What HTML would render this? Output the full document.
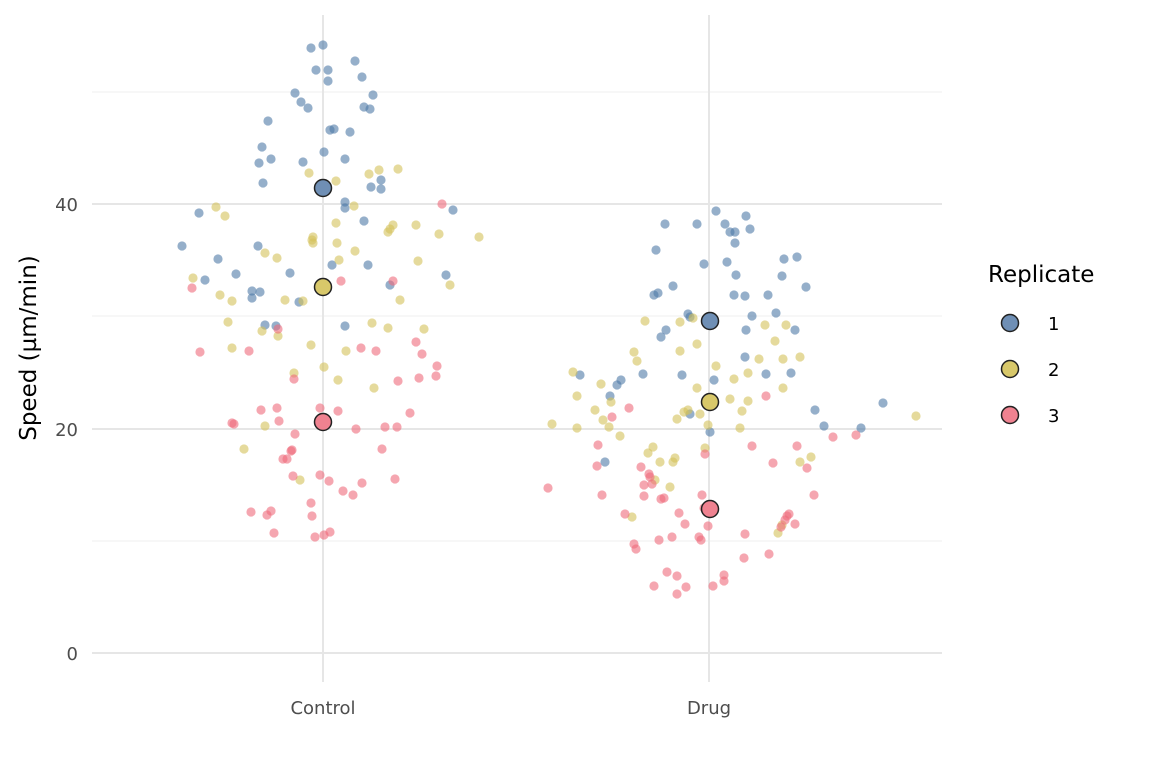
<!DOCTYPE html>
<html><head><meta charset="utf-8"><style>html,body{margin:0;padding:0;background:#fff}</style></head>
<body>
<svg width="1152" height="768" viewBox="0 0 1152 768" xmlns="http://www.w3.org/2000/svg" font-family="'DejaVu Sans', 'Liberation Sans', sans-serif">
<rect width="1152" height="768" fill="#fff"/>
<g stroke="#efefef" stroke-width="1">
<line x1="92" x2="942" y1="541" y2="541"/><line x1="92" x2="942" y1="316" y2="316"/><line x1="92" x2="942" y1="92" y2="92"/>
</g>
<g stroke="#e6e6e6" stroke-width="2">
<line x1="92" x2="942" y1="653" y2="653"/><line x1="92" x2="942" y1="429" y2="429"/><line x1="92" x2="942" y1="204" y2="204"/>
<line x1="323" x2="323" y1="15" y2="682"/><line x1="709" x2="709" y1="15" y2="682"/>
</g>
<g id="pts" stroke="none">
<g fill="#4e79a7" fill-opacity="0.6" id="b"></g>
<g fill="#d4c15a" fill-opacity="0.6" id="y"></g>
<g fill="#ef6b7b" fill-opacity="0.6" id="r"></g>
</g>
<g stroke="#222" stroke-width="1.5">
<circle cx="323" cy="188" r="8.5" fill="#6f8fb5"/>
<circle cx="323" cy="287" r="8.5" fill="#d8c86a"/>
<circle cx="323" cy="422" r="8.5" fill="#ef8290"/>
<circle cx="710" cy="321" r="8.5" fill="#6f8fb5"/>
<circle cx="710" cy="402" r="8.5" fill="#d8c86a"/>
<circle cx="710" cy="509" r="8.5" fill="#ef8290"/>
</g>
<g fill="#4d4d4d" font-size="18" text-anchor="end">
<text x="78" y="660">0</text><text x="78" y="436">20</text><text x="78" y="211">40</text>
</g>
<g fill="#4d4d4d" font-size="18" text-anchor="middle">
<text x="323" y="714">Control</text><text x="709" y="714">Drug</text>
</g>
<text transform="translate(36,348) rotate(-90)" font-size="23" text-anchor="middle" fill="#000">Speed (µm/min)</text>
<text x="988" y="282" font-size="23" fill="#000">Replicate</text>
<g stroke="#222" stroke-width="1.5">
<circle cx="1010" cy="323" r="8.5" fill="#6f8fb5"/>
<circle cx="1010" cy="369" r="8.5" fill="#d8c86a"/>
<circle cx="1010" cy="415" r="8.5" fill="#ef8290"/>
</g>
<g font-size="18" fill="#000"><text x="1048" y="330">1</text><text x="1048" y="376">2</text><text x="1048" y="422">3</text></g>
</svg>
<script>
const B=[[182,246],[199,213],[205,280],[218,259],[236,274],[252,291],[252,298],[260,292],[258,246],[262,147],[259,163],[263,183],[268,121],[271,159],[265,325],[276,326],[290,273],[299,302],[295,93],[301,102],[308,108],[303,162],[311,48],[316,70],[323,45],[328,70],[328,81],[324,152],[330,130],[334,129],[345,159],[350,132],[345,202],[345,208],[355,61],[362,77],[364,107],[370,109],[373,95],[371,187],[381,180],[381,189],[364,221],[368,265],[332,265],[390,285],[446,275],[453,210],[345,326],
[580,375],[605,462],[610,396],[617,385],[621,380],[643,374],[654,295],[656,250],[658,293],[665,224],[666,330],[661,337],[673,286],[682,375],[688,314],[690,317],[690,414],[697,224],[704,264],[710,432],[714,380],[716,211],[725,224],[727,262],[730,232],[735,232],[735,243],[736,275],[734,295],[745,296],[746,330],[745,357],[746,216],[750,229],[752,316],[766,374],[768,295],[776,313],[782,276],[784,259],[795,330],[791,373],[797,257],[806,287],[815,410],[824,426],[861,428],[883,403]];
const Y=[[193,278],[216,207],[225,216],[220,295],[232,301],[228,322],[232,348],[244,449],[262,331],[265,426],[265,253],[277,258],[278,336],[285,300],[294,373],[300,480],[303,301],[309,173],[312,240],[313,237],[313,243],[311,345],[324,367],[336,181],[336,223],[337,243],[339,260],[338,380],[346,351],[354,206],[355,251],[369,174],[372,323],[374,388],[379,170],[388,232],[390,229],[393,225],[388,328],[398,169],[400,300],[416,225],[418,261],[424,329],[439,234],[450,285],[479,237],
[552,424],[573,372],[577,396],[577,428],[595,410],[601,384],[603,420],[609,427],[611,402],[620,436],[632,517],[634,352],[637,361],[645,321],[648,453],[653,447],[655,480],[660,462],[670,487],[673,462],[675,458],[677,419],[680,322],[680,351],[684,412],[688,410],[693,318],[697,344],[697,388],[700,414],[705,448],[708,425],[716,366],[730,399],[734,379],[740,428],[742,411],[748,401],[748,373],[759,359],[765,325],[775,341],[778,533],[782,525],[783,388],[783,359],[786,325],[800,462],[800,357],[811,457],[916,416]];
const R=[[192,288],[200,352],[232,423],[234,424],[249,351],[251,512],[261,410],[267,515],[271,511],[274,533],[277,408],[278,329],[279,421],[283,459],[287,459],[291,451],[292,450],[294,379],[295,434],[293,476],[311,503],[312,516],[315,537],[320,408],[320,475],[324,535],[329,481],[330,532],[338,411],[341,281],[343,491],[353,495],[356,429],[361,348],[362,483],[376,351],[382,449],[385,427],[393,281],[397,427],[395,479],[398,381],[410,413],[416,342],[419,378],[422,354],[436,376],[437,366],[442,204],
[548,488],[597,466],[598,445],[602,495],[612,417],[625,514],[629,408],[634,544],[636,549],[641,467],[644,485],[644,496],[649,474],[650,477],[652,484],[654,586],[659,540],[661,499],[664,498],[667,572],[672,537],[677,576],[677,594],[679,513],[685,524],[686,587],[699,537],[702,495],[704,508],[701,540],[705,454],[708,526],[713,586],[724,575],[724,581],[752,446],[744,558],[745,534],[766,396],[769,554],[773,463],[781,527],[785,520],[787,516],[789,514],[795,524],[797,446],[814,495],[807,468],[833,437],[856,435]];
function add(id,a){const g=document.getElementById(id);let s='';for(const p of a)s+=`<circle cx="${p[0]}" cy="${p[1]}" r="4.6"/>`;g.innerHTML=s;}
add('b',B);add('y',Y);add('r',R);
</script>
</body></html>
